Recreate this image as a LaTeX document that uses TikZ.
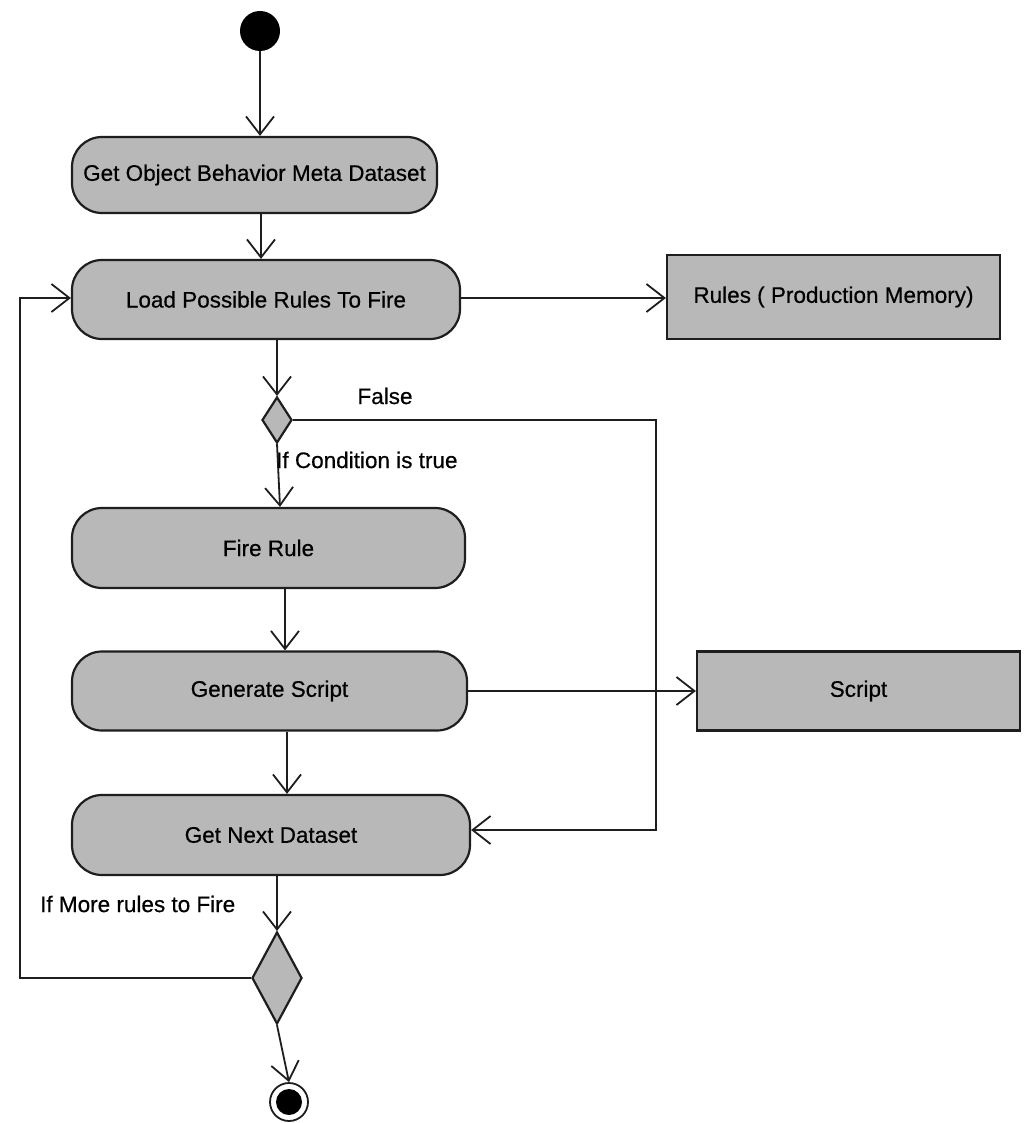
\documentclass[tikz,border=0pt]{standalone}
\usepackage{fontspec}
\setmainfont{Liberation Sans}[FakeBold=0.5]
\usetikzlibrary{arrows.meta,shapes.geometric}
\definecolor{boxfill}{RGB}{184,184,184}
\definecolor{inkline}{RGB}{30,30,30}
\begin{document}
\begin{tikzpicture}[x=1pt,y=-1pt,
  every node/.style={font=\fontsize{22.5}{27}\selectfont},
  action/.style={draw=inkline,line width=2.2pt,fill=boxfill,rounded corners=30pt,inner sep=0pt},
  objbox/.style={draw=inkline,line width=2.2pt,fill=boxfill,inner sep=0pt},
  decide/.style={draw=inkline,line width=2.2pt,fill=boxfill,diamond,inner sep=0pt},
  flow/.style={draw=inkline,line width=1.8pt,-{Straight Barb[length=18pt,width=28pt]}},
  lbl/.style={inner sep=0pt}]
\useasboundingbox (0,0) rectangle (1024,1123);

% initial and final states
\node[circle,fill=black,minimum size=40pt,inner sep=0pt] (start) at (260,31) {};
\node[circle,draw=inkline,line width=1.8pt,fill=white,minimum size=38pt,inner sep=0pt] (stop) at (289,1102) {};
\node[circle,fill=black,minimum size=26pt,inner sep=0pt] (stopdot) at (289,1102) {};

% activities
\node[action,minimum width=365pt,minimum height=76pt] (getmeta) at (254.5,175) {Get Object Behavior Meta Dataset};
\node[action,minimum width=388pt,minimum height=79pt] (load) at (266,299.5) {Load Possible Rules To Fire};
\node[action,minimum width=393pt,minimum height=80pt] (fire) at (268.5,548) {Fire Rule};
\node[action,minimum width=395pt,minimum height=79pt] (gen) at (269.5,691) {Generate Script};
\node[action,minimum width=398pt,minimum height=80pt] (next) at (271,835) {Get Next Dataset};

% object boxes
\node[objbox,minimum width=333pt,minimum height=84pt] (rules) at (833.5,297) {Rules ( Production Memory)};
\node[objbox,minimum width=323pt,minimum height=79pt] (script) at (858.5,691) {Script};

% decisions
\node[decide,minimum width=30pt,minimum height=46pt] (cond) at (277,420) {};
\node[decide,minimum width=50pt,minimum height=92pt] (more) at (277,978) {};

% bend points
\coordinate (falseTop) at (656,420);
\coordinate (falseBot) at (656,830);
\coordinate (loopBot) at (20,978);
\coordinate (loopTop) at (20,298);

% connectors
\draw[flow] (start) -- (start |- getmeta.north);
\draw[flow] (getmeta.south -| 261,0) -- (load.north -| 261,0);
\draw[flow] (load.east |- 0,298) -- (rules.west |- 0,298);
\draw[flow] (load.south -| cond) -- (cond.north);
\draw[flow] (cond.south) -- (fire.north -| 280,0);
\draw[flow] (fire.south -| 285,0) -- (gen.north -| 285,0);
\draw[flow] (gen.east) -- (script.west);
\draw[flow] (gen.south -| 287,0) -- (next.north -| 287,0);
\draw[flow] (cond.east) -- (falseTop) -- (falseBot) -- (next.east |- falseBot);
\draw[flow] (next.south -| more) -- (more.north);
\draw[flow] (more.west) -- (loopBot) -- (loopTop) -- (load.west |- loopTop);
\draw[flow] (more.south) -- (stop.north);

% guard labels
\node[lbl,anchor=center] (lfalse) at (385,396) {False};
\node[lbl,anchor=west] (ltrue) at (276,460) {If Condition is true};
\node[lbl,anchor=west] (lmore) at (40,904) {If More rules to Fire};
\end{tikzpicture}
\end{document}
